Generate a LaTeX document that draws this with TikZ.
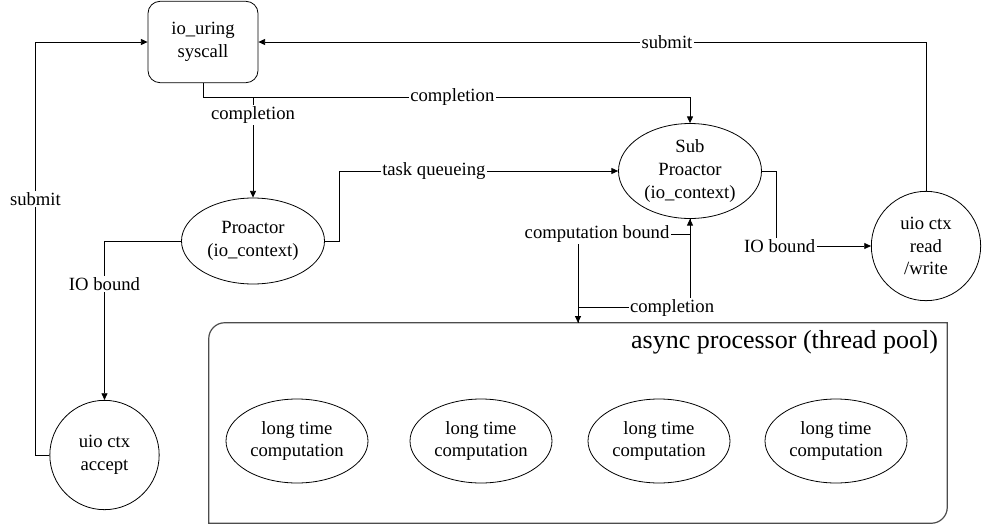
\documentclass[tikz,border=0pt]{standalone}
\usepackage{fontspec}
\setmainfont{Liberation Serif}
\usetikzlibrary{arrows.meta, shapes.geometric}
\tikzset{
	io flow/.is family,
	io flow/.cd,
	link/.style = {
		line width = 0.6pt,
		-{Triangle[length = 5pt, width = 4.5pt]},
	},
	plain link/.style = {
		line width = 0.6pt,
	},
	tag/.style = {
		fill = white,
		inner sep = 1pt,
		font = \fontsize{14}{17}\selectfont,
	},
	pool frame/.style = {
		line width = 0.9pt,
		draw = black!70,
	},
}

\begin{document}
\begin{tikzpicture}[
		x = 0.75pt, y = 0.75pt,
		every node/.style = {font = \fontsize{14}{17}\selectfont, align = center},
		syscall box/.style = {
			draw, line width = 0.6pt,
			rounded corners = 9pt,
			minimum width = 82.5pt, minimum height = 61pt,
			inner sep = 0pt
		},
		ctx ellipse/.style = {
			draw, ellipse, line width = 0.6pt,
			minimum width = 107.25pt, minimum height = 64.5pt,
			inner sep = 0pt
		},
		uio circle/.style = {
			draw, circle, line width = 0.6pt,
			minimum size = 82pt,
			inner sep = 0pt
		},
		work ellipse/.style = {
			draw, ellipse, line width = 0.6pt,
			minimum width = 106.5pt, minimum height = 63pt,
			inner sep = 0pt
		}]
		\useasboundingbox (0, 0) rectangle (982, -525);
		\def\r{12pt}
		% nodes
		\node[syscall box] (syscall) at (203, -42) {io\_uring\\syscall};
		\node[ctx ellipse] (proactor) at (253, -241) {Proactor\\(io\_context)};
		\node[ctx ellipse, minimum height = 71.25pt] (subproactor) at (690, -171) {Sub\\Proactor\\(io\_context)};
		\node[uio circle] (accept) at (104.5, -455) {uio ctx\\accept};
		\node[uio circle] (readwrite) at (926, -246) {uio ctx\\read\\/write};
		\node[minimum width = 553.5pt, minimum height = 150pt, inner sep = 0pt] (pool) at (578, -423) {};
		\draw[io flow/pool frame] (pool.south west) -- ([yshift = -\r]pool.north west)
			arc[start angle = 180, end angle = 90, radius = \r] -- (pool.north east)
			-- ([yshift = \r]pool.south east)
			arc[start angle = 0, end angle = -90, radius = \r] -- cycle;
		\node[anchor = east, inner sep = 0pt, font = \fontsize{19.5}{22}\selectfont] (pool title)
			at ([xshift = -6.75pt, yshift = -15pt]pool.north east) {async processor (thread pool)};
		\foreach \x [count = \i] in {297, 481, 659, 836}{
			\node[work ellipse] (work-\i) at (\x, -441) {long time\\computation};
		}
		% connectors
		\draw[io flow/link] (accept.west) -- ++(-14, 0) |- (syscall.west)
			node[io flow/tag, pos = 0.31] {submit};
		\draw[io flow/link] (readwrite.north) |- (syscall.east)
			node[io flow/tag, pos = 0.694] {submit};
		\draw[io flow/link] (syscall.south) -- ++(0, -14) -| (proactor.north)
			node[io flow/tag, pos = 0.59] {completion};
		\draw[io flow/link] (syscall.south) -- ++(0, -14) -| (subproactor.north)
			node[io flow/tag, pos = 0.256] {completion};
		\draw[io flow/link] (proactor.east) -- ++(14, 0) |- (subproactor.west)
			node[io flow/tag, pos = 0.67] {task queueing};
		\draw[io flow/link] (proactor.west) -| (accept.north)
			node[io flow/tag, pos = 0.635] {IO bound};
		\draw[io flow/link] (subproactor.east) -- ++(14, 0) |- (readwrite.west)
			node[io flow/tag, pos = 0.52] {IO bound};
		\draw[io flow/link] (subproactor.south) -- ++(0, -15) -| (pool.north)
			node[io flow/tag, pos = 0.415] {computation bound};
		\draw[io flow/link] (pool.north) -- ++(0, 15) -| (subproactor.south)
			node[io flow/tag, pos = 0.42] {completion};
	\end{tikzpicture}
\end{document}
